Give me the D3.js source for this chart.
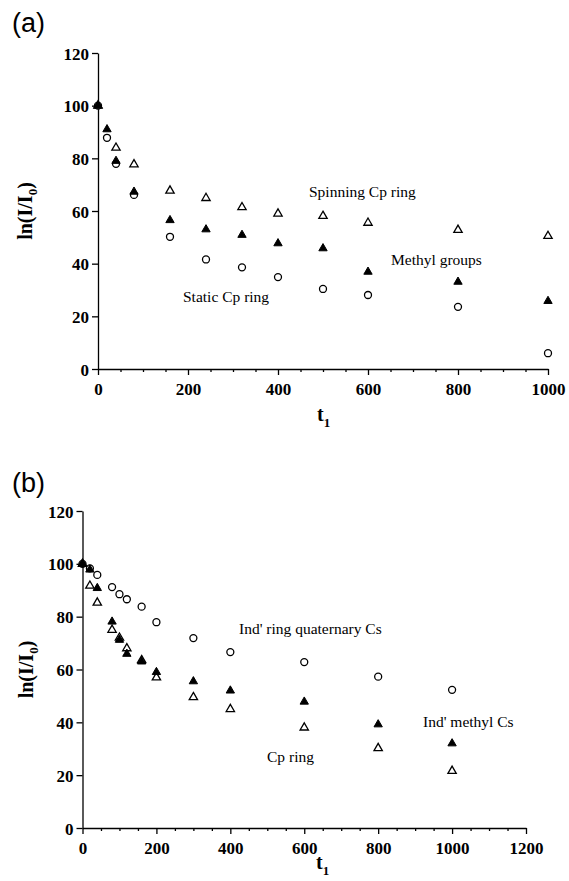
<!DOCTYPE html>
<html>
<head>
<meta charset="utf-8">
<script src="https://cdn.jsdelivr.net/npm/d3@7"></script>
<style>
  html, body { margin: 0; padding: 0; background: #fff; }
  svg { display: block; }
  .tick text { font-family: "Liberation Serif", "Times New Roman", serif; font-weight: bold; font-size: 17px; fill: #000; }
  .note { font-family: "Liberation Serif", "Times New Roman", serif; font-size: 15.5px; fill: #000; }
  .axlabel { font-family: "Liberation Serif", "Times New Roman", serif; font-weight: bold; font-size: 20px; fill: #000; }
  .panel { font-family: "Liberation Sans", Arial, sans-serif; font-size: 27px; fill: #000; }
</style>
</head>
<body>
<svg id="chart" width="569" height="881"></svg>
<script>
// Panel (a): relaxation delay t1 and ln(I/I0) for the three groups
const tA = [0, 20, 40, 80, 160, 240, 320, 400, 500, 600, 800, 1000];
const spinningCp = [100, null, 84, 77.7, 67.7, 64.9, 61.4, 59, 58.1, 55.5, 52.8, 50.5];
const methylGroups = [100, 91, 79, 67.3, 56.5, 53, 50.9, 47.7, 45.8, 36.9, 33.1, 25.8];
const staticCp = [100, 87.8, 77.9, 66.1, 50.2, 41.6, 38.6, 34.9, 30.4, 28.1, 23.6, 6];

// Panel (b)
const tB = [0, 20, 40, 80, 100, 120, 160, 200, 300, 400, 600, 800, 1000];
const indRingQuat = [100, 98.3, 95.8, 91.2, 88.5, 86.6, 83.8, 77.9, 71.9, 66.6, 62.8, 57.3, 52.3];
const indMethyl = [100, 97.8, 90.8, 78.1, 71.2, 65.9, 63, 59, 55.5, 52, 47.8, 39.2, 32];
const cpRing = [100, 91.7, 85.3, 75, 72, 68, 63.5, 57, 49.5, 45, 38, 30.2, 21.6];

const yTicks = [0, 20, 40, 60, 80, 100, 120];
const xTicksA = [0, 200, 400, 600, 800, 1000];
const xTicksB = [0, 200, 400, 600, 800, 1000, 1200];

const svg = d3.select("#chart");

const triSym = d3.symbol().type(d3.symbolTriangle).size(30);

function panel(cfg) {
  const g = svg.append("g");
  const x = d3.scaleLinear().domain(cfg.xDomain).range(cfg.xRange);
  const y = d3.scaleLinear().domain([0, 120]).range(cfg.yRange);

  // minor x ticks every 50
  const minor = d3.range(cfg.xDomain[0], cfg.xDomain[1] + 1, 50).filter(v => v % 200 !== 0);
  g.append("g")
    .attr("transform", `translate(0,${cfg.yRange[0]})`)
    .call(d3.axisBottom(x).tickValues(minor).tickSize(3).tickFormat(""))
    .call(a => a.select(".domain").remove());

  const xAxis = g.append("g")
    .attr("transform", `translate(0,${cfg.yRange[0]})`)
    .call(d3.axisBottom(x).tickValues(cfg.xTicks).tickSize(6).tickSizeOuter(0).tickPadding(6).tickFormat(d3.format("d")));
  xAxis.selectAll(".tick text").attr("dy", "0.8em");

  const yAxis = g.append("g")
    .attr("transform", `translate(${cfg.xRange[0]},0)`)
    .call(d3.axisLeft(y).tickValues(yTicks).tickSize(6).tickSizeOuter(0).tickPadding(3).tickFormat(d3.format("d")));
  yAxis.selectAll(".tick text").attr("dy", "0.36em");

  g.selectAll(".domain, .tick line").attr("stroke", "#000").attr("stroke-width", 1.3);

  const pts = (ts, vs) => ts.map((t, i) => ({ t, v: vs[i] })).filter(d => d.v != null);

  // open circles
  g.append("g").selectAll("circle")
    .data(pts(cfg.t, cfg.circles))
    .join("circle")
    .attr("cx", d => x(d.t)).attr("cy", d => y(d.v)).attr("r", 3.5)
    .attr("fill", "#fff").attr("stroke", "#000").attr("stroke-width", 1.3);

  // open triangles
  g.append("g").selectAll("path")
    .data(pts(cfg.t, cfg.openTri))
    .join("path")
    .attr("d", triSym)
    .attr("transform", d => `translate(${x(d.t)},${y(d.v)})`)
    .attr("fill", "#fff").attr("stroke", "#000").attr("stroke-width", 1.3);

  // filled triangles
  g.append("g").selectAll("path")
    .data(pts(cfg.t, cfg.filledTri))
    .join("path")
    .attr("d", triSym)
    .attr("transform", d => `translate(${x(d.t)},${y(d.v)})`)
    .attr("fill", "#000").attr("stroke", "#000").attr("stroke-width", 1);

  // panel letter
  g.append("text").attr("class", "panel")
    .attr("x", 12).attr("y", cfg.letterY).text(cfg.letter);

  // y label
  const ym = (cfg.yRange[0] + cfg.yRange[1]) / 2;
  const yl = g.append("text").attr("class", "axlabel")
    .attr("transform", `translate(${cfg.yLabelX},${ym}) rotate(-90)`)
    .attr("text-anchor", "middle");
  yl.append("tspan").text("ln(I/I");
  yl.append("tspan").attr("font-size", "13px").attr("dy", "5").text("0");
  yl.append("tspan").attr("dy", "-5").text(")");

  // x label
  const xl = g.append("text").attr("class", "axlabel")
    .attr("x", cfg.xLabelX).attr("y", cfg.xLabelY);
  xl.append("tspan").text("t");
  xl.append("tspan").attr("font-size", "13px").attr("dy", "6").text("1");

  cfg.notes.forEach(n => {
    g.append("text").attr("class", "note").attr("x", n.x).attr("y", n.y).text(n.text);
  });
}

panel({
  xDomain: [0, 1000], xRange: [98, 548], yRange: [369, 53],
  xTicks: xTicksA, t: tA,
  circles: staticCp, openTri: spinningCp, filledTri: methylGroups,
  letter: "(a)", letterY: 32,
  yLabelX: 32, xLabelX: 317, xLabelY: 421,
  notes: [
    { x: 309, y: 197, text: "Spinning Cp ring" },
    { x: 391, y: 265, text: "Methyl groups" },
    { x: 183, y: 302, text: "Static Cp ring" }
  ]
});

panel({
  xDomain: [0, 1200], xRange: [82.5, 526], yRange: [828, 511],
  xTicks: xTicksB, t: tB,
  circles: indRingQuat, openTri: cpRing, filledTri: indMethyl,
  letter: "(b)", letterY: 492,
  yLabelX: 33, xLabelX: 316, xLabelY: 869,
  notes: [
    { x: 239, y: 634, text: "Ind' ring quaternary Cs" },
    { x: 423, y: 727, text: "Ind' methyl Cs" },
    { x: 267, y: 762, text: "Cp ring" }
  ]
});
</script>
</body>
</html>
